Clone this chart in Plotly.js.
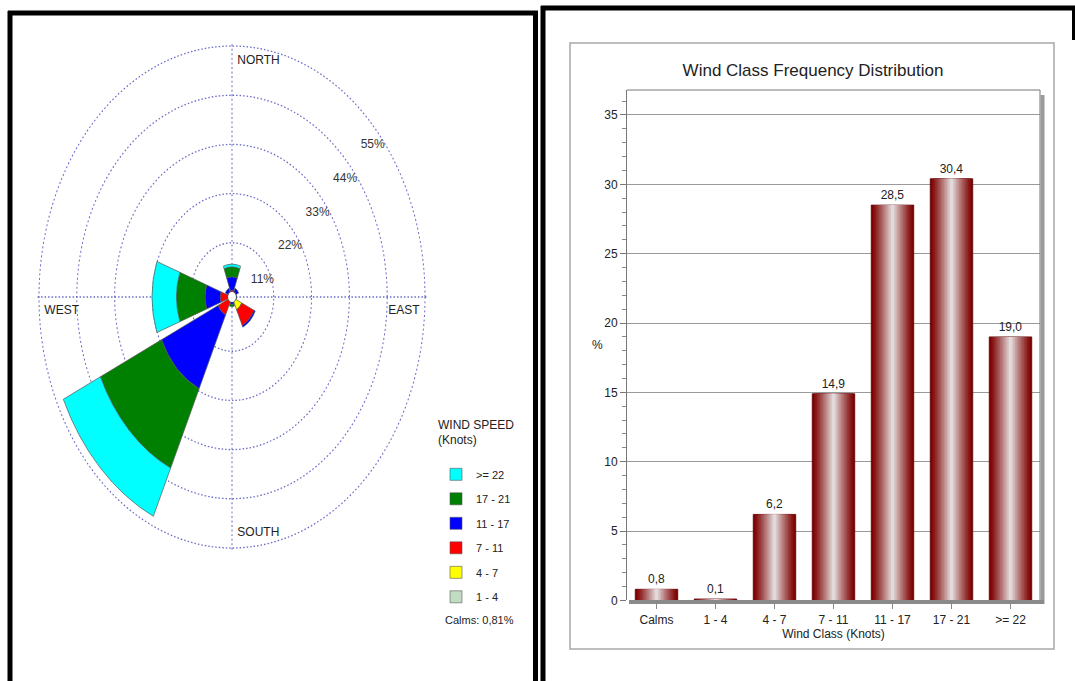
<!DOCTYPE html>
<html>
<head>
<meta charset="utf-8">
<script src="https://cdn.plot.ly/plotly-3.0.1.min.js"></script>
<style>
  html, body { margin: 0; padding: 0; background: #fff; }
  #chart { width: 1075px; height: 681px; }
</style>
</head>
<body>
<div id="chart"></div>
<script>
// ---------- DATA ----------
// Wind rose (percent per direction, stacked by wind speed class)
const directions = [0, 45, 90, 135, 180, 225, 270, 315]; // N, NE, E, SE, S, SW, W, NW
const speedClasses = ['1 - 4', '4 - 7', '7 - 11', '11 - 17', '17 - 21', '>= 22'];
const rose_1_4   = [0.0, 0.0, 0.0, 0.1, 0.0, 0.0, 0.0, 0.0];
const rose_4_7   = [0.1, 0.0, 0.0, 1.9, 0.0, 0.1, 0.0, 0.0];
const rose_7_11  = [0.3, 0.2, 0.0, 3.9, 0.0, 3.2, 2.3, 0.2];
const rose_11_17 = [3.0, 0.8, 0.2, 0.4, 0.5, 18.2, 4.4, 0.8];
const rose_17_21 = [2.2, 0.0, 0.0, 0.0, 0.5, 19.6, 8.3, 0.0];
const rose_22    = [0.6, 0.0, 0.0, 0.0, 0.0, 11.9, 7.1, 0.0];
const roseRings = [11, 22, 33, 44, 55];
const compassAngles = [0, 90, 180, 270];
const compassNames = ['NORTH', 'EAST', 'SOUTH', 'WEST'];
const calmsPct = 0.81;

// Wind class frequency distribution
const categories = ['Calms', '1 - 4', '4 - 7', '7 - 11', '11 - 17', '17 - 21', '>= 22'];
const freq = [0.8, 0.1, 6.2, 14.9, 28.5, 30.4, 19.0];

// ---------- STYLE ----------
const FONT = 'Liberation Sans, Arial, sans-serif';
const roseColors = ['#c2dcc4', '#ffff00', '#ff0000', '#0000ff', '#008000', '#00ffff'];
const roseSeries = [rose_1_4, rose_4_7, rose_7_11, rose_11_17, rose_17_21, rose_22];
const GRID = 'rgba(80,80,190,0.85)';
const GRIDDASH = '1.5px,2px';

const W = 1075, H = 681;
const px = x => x / W;
const py = y => 1 - y / H;

const traces = [];

// wind rose stacked bars
roseSeries.forEach((vals, i) => {
  traces.push({
    type: 'barpolar',
    r: vals,
    theta: directions,
    width: 40,
    name: speedClasses[i],
    legendgroup: 'g' + i,
    legendrank: 100 + (roseSeries.length - i),
    marker: { color: roseColors[i], line: { color: '#555', width: 0.6 } },
    hoverinfo: 'skip',
    subplot: 'polar'
  });
});

// compass labels (inside the outer ring)
traces.push({
  type: 'scatterpolar',
  mode: 'markers+text',
  r: compassAngles.map(() => roseRings[roseRings.length - 1]),
  theta: compassAngles,
  text: compassNames,
  textposition: ['bottom right', 'bottom left', 'top right', 'bottom right'],
  textfont: { family: FONT, size: 12, color: '#222' },
  marker: { size: 7, opacity: 0 },
  showlegend: false,
  hoverinfo: 'skip',
  subplot: 'polar'
});

// ring labels
traces.push({
  type: 'scatterpolar',
  mode: 'markers+text',
  r: roseRings,
  theta: roseRings.map(() => 46.8),
  text: roseRings.map(v => v + '%'),
  textposition: 'bottom center',
  textfont: { family: FONT, size: 12, color: '#333' },
  marker: { size: 14, opacity: 0 },
  showlegend: false,
  hoverinfo: 'skip',
  subplot: 'polar'
});

// bar chart: gradient made of overlaid bars
const NL = 14;
const BARW = 0.72;
const edge = [125, 0, 0], center = [226, 218, 218];
for (let i = 0; i < NL; i++) {
  const t = Math.pow(i / (NL - 1), 1.15);
  const c = edge.map((e, k) => Math.round(e + (center[k] - e) * t));
  traces.push({
    type: 'bar',
    x: categories,
    y: freq,
    width: BARW * (1 - i / NL),
    marker: {
      color: `rgb(${c[0]},${c[1]},${c[2]})`,
      line: i === 0 ? { color: '#5a0000', width: 0.8 } : { width: 0 }
    },
    texttemplate: i === 0 ? '%{y:.1f}' : undefined,
    textposition: i === 0 ? 'outside' : 'none',
    textfont: { family: FONT, size: 12, color: '#222' },
    cliponaxis: false,
    showlegend: false,
    hoverinfo: 'skip',
    xaxis: 'x', yaxis: 'y'
  });
}

// polar geometry (unstretched circle; stretched vertically afterwards)
const RMAX = 56, HOLE = 0.02;
const CX = 232, CY = 297, K = 1.30;
const RX = 193 / (HOLE + (1 - HOLE) * 55 / RMAX);

const layout = {
  width: W, height: H,
  margin: { l: 0, r: 0, t: 0, b: 0 },
  paper_bgcolor: '#ffffff',
  plot_bgcolor: '#ffffff',
  separators: ',.',
  font: { family: FONT, color: '#222' },
  showlegend: true,
  barmode: 'overlay',
  title: {
    text: 'Wind Class Frequency Distribution',
    x: px(813), y: py(70), xanchor: 'center', yanchor: 'middle',
    font: { family: FONT, size: 17, color: '#222' }
  },
  polar: {
    domain: { x: [px(CX - RX), px(CX + RX)], y: [py(CY + RX), py(CY - RX)] },
    bgcolor: 'rgba(0,0,0,0)',
    hole: HOLE,
    barmode: 'stack',
    radialaxis: {
      range: [0, RMAX],
      tickvals: roseRings,
      showticklabels: false,
      showline: false,
      ticks: '',
      gridcolor: GRID,
      griddash: GRIDDASH,
      gridwidth: 1
    },
    angularaxis: {
      rotation: 90,
      direction: 'clockwise',
      tickvals: compassAngles,
      showticklabels: false,
      ticks: '',
      showline: false,
      gridcolor: GRID,
      griddash: GRIDDASH,
      gridwidth: 1
    }
  },
  xaxis: {
    domain: [px(627), px(1040)],
    type: 'category',
    range: [-0.5, 6.5],
    ticks: 'outside', ticklen: 8, tickcolor: '#888',
    showline: false, showgrid: false, zeroline: false,
    tickfont: { family: FONT, size: 12, color: '#222' },
    title: { text: 'Wind Class (Knots)', font: { family: FONT, size: 12, color: '#222' }, standoff: 2 },
    fixedrange: true
  },
  yaxis: {
    domain: [py(600.4), py(90)],
    range: [0, 36.8],
    dtick: 5, tick0: 0,
    ticks: 'outside', ticklen: 6, tickcolor: '#777',
    minor: { dtick: 1, ticks: 'outside', ticklen: 4, tickcolor: '#888', showgrid: false },
    showline: true, linecolor: '#777', linewidth: 1,
    gridcolor: '#9a9a9a', gridwidth: 1,
    zeroline: false,
    tickfont: { family: FONT, size: 12, color: '#222' },
    fixedrange: true
  },
  legend: {
    x: px(436), y: py(413), xanchor: 'left', yanchor: 'top',
    traceorder: 'grouped',
    tracegroupgap: 5.5,
    font: { family: FONT, size: 11, color: '#222' },
    title: { text: 'WIND SPEED<br>(Knots)<br> ', font: { family: FONT, size: 12, color: '#222' } },
    bgcolor: 'rgba(0,0,0,0)'
  },
  annotations: [
    { text: 'Calms: ' + calmsPct.toFixed(2).replace('.', ',') + '%', xref: 'paper', yref: 'paper',
      x: px(443), y: py(620), xanchor: 'left', yanchor: 'middle', showarrow: false,
      font: { family: FONT, size: 11, color: '#222' } },
    { text: '%', xref: 'paper', yref: 'paper', x: px(597), y: py(345), xanchor: 'center', yanchor: 'middle',
      showarrow: false, font: { family: FONT, size: 12, color: '#222' } }
  ],
  shapes: [
    // left panel frame
    { type: 'line', xref: 'paper', yref: 'paper', x0: px(8), x1: px(538), y0: py(13), y1: py(13), line: { color: '#000', width: 5 } },
    { type: 'line', xref: 'paper', yref: 'paper', x0: px(10), x1: px(10), y0: py(11), y1: py(681), line: { color: '#000', width: 5 } },
    { type: 'line', xref: 'paper', yref: 'paper', x0: px(535.5), x1: px(535.5), y0: py(11), y1: py(681), line: { color: '#000', width: 5 } },
    // right panel frame
    { type: 'line', xref: 'paper', yref: 'paper', x0: px(541), x1: px(1075), y0: py(8), y1: py(8), line: { color: '#000', width: 5 } },
    { type: 'line', xref: 'paper', yref: 'paper', x0: px(543), x1: px(543), y0: py(6), y1: py(681), line: { color: '#000', width: 5 } },
    { type: 'line', xref: 'paper', yref: 'paper', x0: px(1073.5), x1: px(1073.5), y0: py(6), y1: py(40), line: { color: '#000', width: 3 } },
    // chart box
    { type: 'rect', xref: 'paper', yref: 'paper', x0: px(570), x1: px(1054), y0: py(649), y1: py(43), line: { color: '#a8a8a8', width: 1.5 } },
    // plot frame + shadow
    { type: 'line', xref: 'paper', yref: 'paper', x0: px(627), x1: px(1040), y0: py(90), y1: py(90), line: { color: '#777', width: 1 } },
    { type: 'line', xref: 'paper', yref: 'paper', x0: px(1040), x1: px(1040), y0: py(90), y1: py(600), line: { color: '#777', width: 1 } },
    { type: 'line', xref: 'paper', yref: 'paper', x0: px(1042.5), x1: px(1042.5), y0: py(95), y1: py(604), line: { color: '#9a9a9a', width: 4 } },
    { type: 'line', xref: 'paper', yref: 'paper', x0: px(629), x1: px(1044), y0: py(602), y1: py(602), line: { color: '#8a8a8a', width: 4 } }
  ]
};

Plotly.newPlot('chart', traces, layout, { staticPlot: true, displayModeBar: false }).then(gd => {
  // stretch the polar layer vertically to reproduce the elliptical rose
  const layer = gd.querySelector('.polarlayer');
  if (!layer) return;
  layer.setAttribute('transform', `translate(0,${CY}) scale(1,${K}) translate(0,${-CY})`);
  // keep texts undistorted
  const svgNS = 'http://www.w3.org/2000/svg';
  layer.querySelectorAll('text').forEach(t => {
    const r = t.getBoundingClientRect();
    if (!r.width) return;
    const parent = t.parentNode;
    const m = parent.getScreenCTM().inverse();
    const p = new DOMPoint(r.left + r.width / 2, r.top + r.height / 2).matrixTransform(m);
    const g = document.createElementNS(svgNS, 'g');
    g.setAttribute('transform', `translate(${p.x},${p.y}) scale(1,${1 / K}) translate(${-p.x},${-p.y})`);
    parent.insertBefore(g, t);
    g.appendChild(t);
  });
});
</script>
</body>
</html>
